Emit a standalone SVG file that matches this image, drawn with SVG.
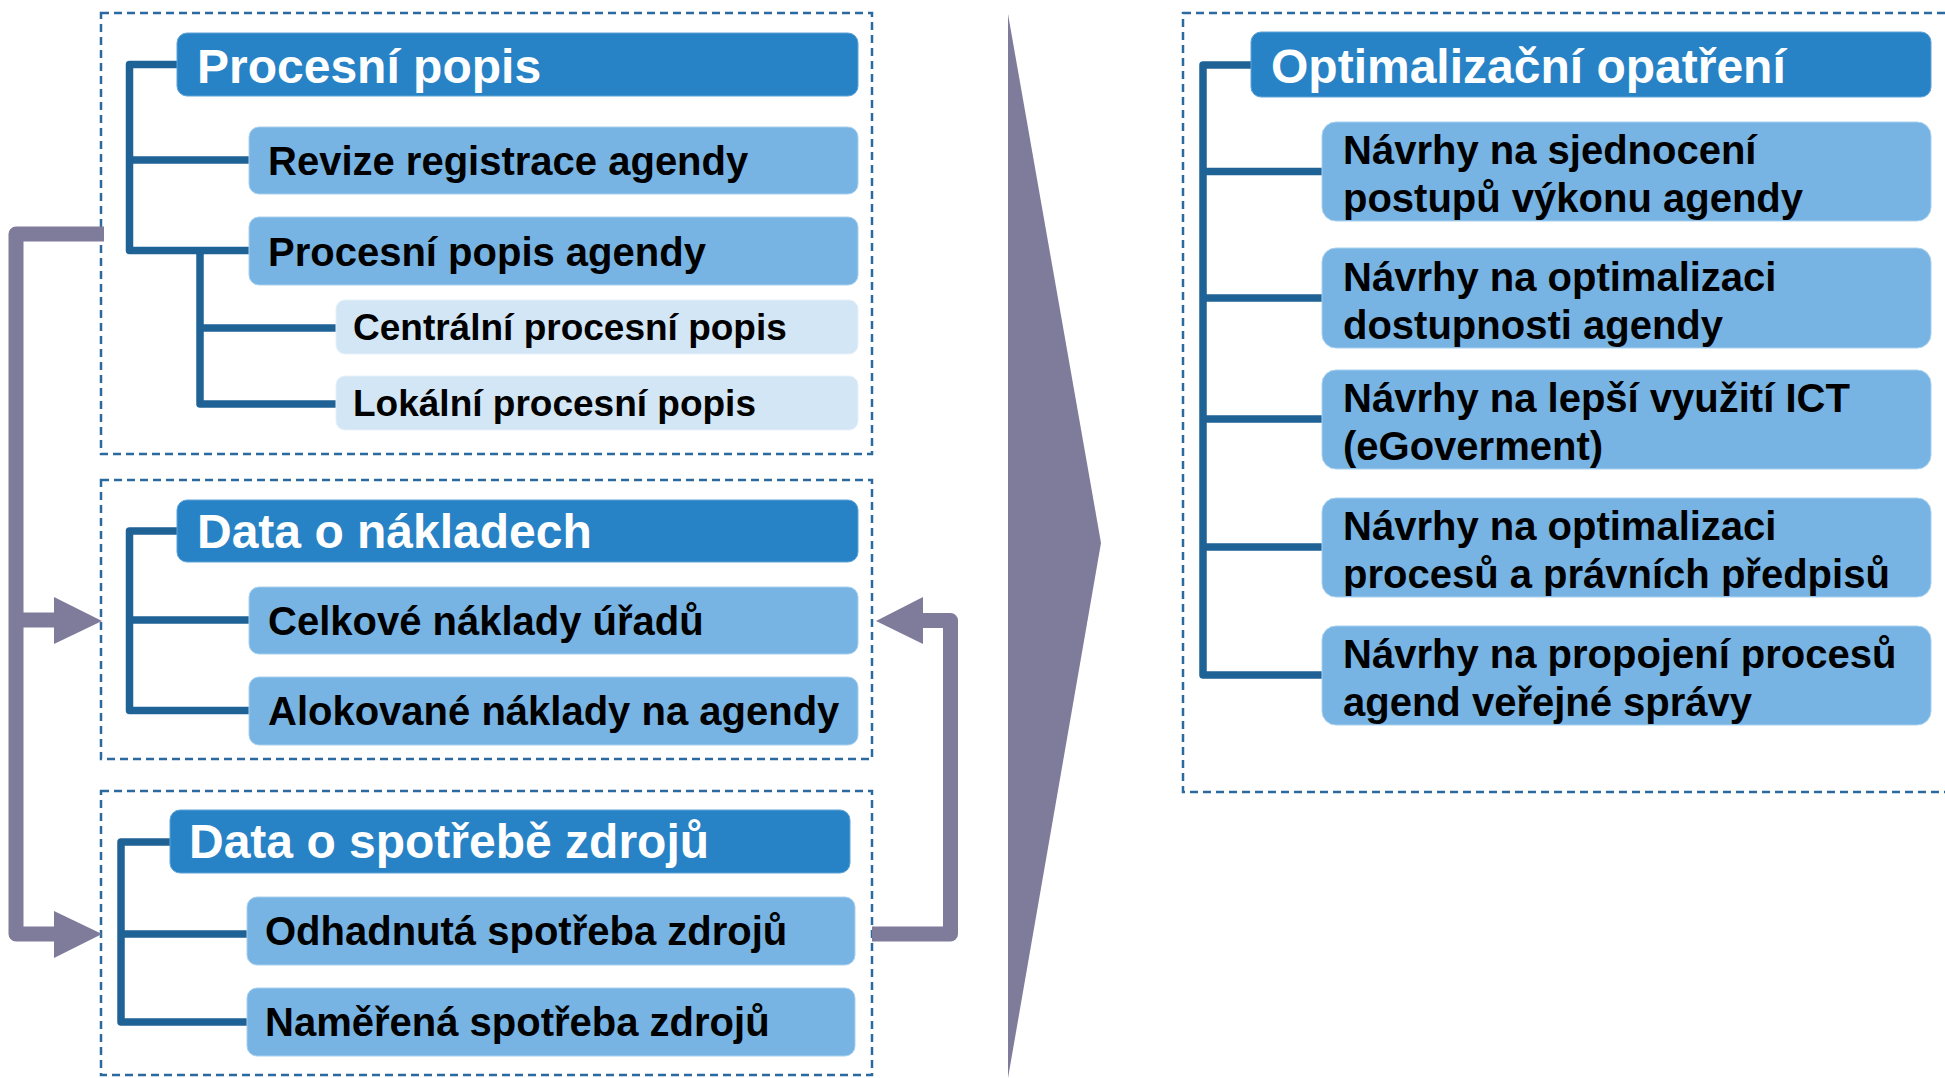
<svg xmlns="http://www.w3.org/2000/svg" width="1945" height="1078" viewBox="0 0 1945 1078">
<style>
.frame{fill:none;stroke:#2A6A9E;stroke-width:2.5;stroke-dasharray:8 5}
.hdr{fill:#2883C6;stroke:#5FA3D8;stroke-width:1}
.sub{fill:#77B4E3;stroke:#A9D0EE;stroke-width:1}
.lt{fill:#D3E6F5;stroke:#E6F1FA;stroke-width:1}
.ht{font-family:"Liberation Sans",Arial,sans-serif;font-weight:bold;font-size:48px;fill:#FFFFFF}
.st{font-family:"Liberation Sans",Arial,sans-serif;font-weight:bold;font-size:40px;fill:#000000}
.lt-t{font-family:"Liberation Sans",Arial,sans-serif;font-weight:bold;font-size:37px;fill:#000000}
.tree{fill:none;stroke:#1F6296;stroke-width:7.5;stroke-linejoin:round}
.flow{fill:none;stroke:#7F7B9B;stroke-width:15;stroke-linejoin:round}
.head{fill:#7F7B9B}
</style>

<g id="frames">
<rect class="frame" x="101" y="13" width="771" height="441"/>
<rect class="frame" x="101" y="480" width="771" height="279"/>
<rect class="frame" x="101" y="791" width="771" height="284"/>
<rect class="frame" x="1183" y="13" width="775" height="779"/>
</g>

<g id="connectors">
<path class="tree" d="M177,64.5 H129.5 V250.5 H249 M129.5,160 H249 M200,250.5 V404 H336 M200,328 H336"/>
<path class="tree" d="M177,531 H129.5 V710.5 H249 M129.5,620 H249"/>
<path class="tree" d="M170,842 H121 V1022 H247 M121,934 H247"/>
<path class="tree" d="M1251,65 H1203 V675 H1322 M1203,171.5 H1322 M1203,298 H1322 M1203,419 H1322 M1203,547 H1322"/>
<path class="flow" d="M104,234 H16 V934 H56 M16,620 H56"/>
<polygon class="head" points="54,597 102,621 54,644"/>
<polygon class="head" points="54,911 102,934 54,958"/>
<path class="flow" d="M872,934 H950.5 V620.5 H921"/>
<polygon class="head" points="923,597 876,621 923,644"/>
<polygon class="head" points="1008,14 1101,543 1008,1078"/>
</g>

<g id="node-procesni-popis">
<rect class="hdr" x="177" y="33" width="681" height="63" rx="10"/>
<text class="ht" x="197" y="83">Procesní popis</text>
</g>
<g id="node-revize">
<rect class="sub" x="249" y="127" width="609" height="67" rx="10"/>
<text class="st" x="268" y="175">Revize registrace agendy</text>
</g>
<g id="node-procesni-popis-agendy">
<rect class="sub" x="249" y="217" width="609" height="68" rx="10"/>
<text class="st" x="268" y="266">Procesní popis agendy</text>
</g>
<g id="node-centralni">
<rect class="lt" x="336" y="300" width="522" height="54" rx="9"/>
<text class="lt-t" x="353" y="340">Centrální procesní popis</text>
</g>
<g id="node-lokalni">
<rect class="lt" x="336" y="376" width="522" height="54" rx="9"/>
<text class="lt-t" x="353" y="416">Lokální procesní popis</text>
</g>

<g id="node-data-naklady">
<rect class="hdr" x="177" y="500" width="681" height="62" rx="10"/>
<text class="ht" x="197" y="548">Data o nákladech</text>
</g>
<g id="node-celkove">
<rect class="sub" x="249" y="587" width="609" height="67" rx="10"/>
<text class="st" x="268" y="635">Celkové náklady úřadů</text>
</g>
<g id="node-alokovane">
<rect class="sub" x="249" y="677" width="609" height="68" rx="10"/>
<text class="st" x="268" y="725">Alokované náklady na agendy</text>
</g>

<g id="node-data-spotreba">
<rect class="hdr" x="170" y="810" width="680" height="63" rx="10"/>
<text class="ht" x="189" y="858">Data o spotřebě zdrojů</text>
</g>
<g id="node-odhadnuta">
<rect class="sub" x="247" y="897" width="608" height="68" rx="10"/>
<text class="st" x="265" y="945">Odhadnutá spotřeba zdrojů</text>
</g>
<g id="node-namerena">
<rect class="sub" x="247" y="988" width="608" height="68" rx="10"/>
<text class="st" x="265" y="1036">Naměřená spotřeba zdrojů</text>
</g>

<g id="node-optimalizacni">
<rect class="hdr" x="1251" y="32" width="680" height="65" rx="10"/>
<text class="ht" x="1271" y="83">Optimalizační opatření</text>
</g>
<g id="node-sjednoceni">
<rect class="sub" x="1322" y="122" width="609" height="99" rx="14"/>
<text class="st" x="1343" y="164">Návrhy na sjednocení</text>
<text class="st" x="1343" y="212">postupů výkonu agendy</text>
</g>
<g id="node-dostupnost">
<rect class="sub" x="1322" y="248" width="609" height="100" rx="14"/>
<text class="st" x="1343" y="291">Návrhy na optimalizaci</text>
<text class="st" x="1343" y="339">dostupnosti agendy</text>
</g>
<g id="node-ict">
<rect class="sub" x="1322" y="370" width="609" height="99" rx="14"/>
<text class="st" x="1343" y="412">Návrhy na lepší využití ICT</text>
<text class="st" x="1343" y="460">(eGoverment)</text>
</g>
<g id="node-procesy">
<rect class="sub" x="1322" y="498" width="609" height="99" rx="14"/>
<text class="st" x="1343" y="540">Návrhy na optimalizaci</text>
<text class="st" x="1343" y="588">procesů a právních předpisů</text>
</g>
<g id="node-propojeni">
<rect class="sub" x="1322" y="626" width="609" height="99" rx="14"/>
<text class="st" x="1343" y="668">Návrhy na propojení procesů</text>
<text class="st" x="1343" y="716">agend veřejné správy</text>
</g>
</svg>
